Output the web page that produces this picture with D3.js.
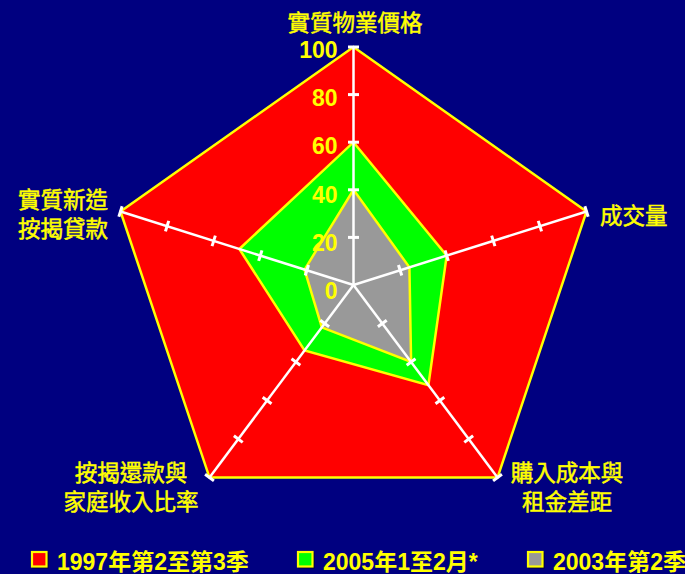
<!DOCTYPE html>
<html>
<head>
<meta charset="utf-8">
<script src="https://cdn.jsdelivr.net/npm/d3@7"></script>
<style>
  html, body { margin: 0; padding: 0; background: #000080; }
  svg { display: block; }
</style>
</head>
<body>
<svg id="chart" width="685" height="574"></svg>
<script>
// Radar axes, clockwise from the top
const axisNames = ["實質物業價格", "成交量", "購入成本與租金差距", "按揭還款與家庭收入比率", "實質新造按揭貸款"];
const axisLabelLines = [["實質物業價格"], ["成交量"], ["購入成本與", "租金差距"], ["按揭還款與", "家庭收入比率"], ["實質新造", "按揭貸款"]];

// Series values (index = 100 scale)
const seriesNames = ["1997年第2至第3季", "2005年1至2月*", "2003年第2季"];
const values1997 = [100, 100, 100, 100, 100];
const values2005 = [60, 40, 52, 34, 49];
const values2003 = [40, 24, 40, 22, 21];
const seriesColors = ["#ff0000", "#00ff00", "#999999"];

const tickValues = [0, 20, 40, 60, 80, 100];

const svg = d3.select("#chart");
const W = 685, H = 574;
svg.append("rect").attr("width", W).attr("height", H).attr("fill", "#000080");

const cx = 353.5, cy = 285;
const rx = d3.scaleLinear().domain([0, 100]).range([0, 245]);
const ry = d3.scaleLinear().domain([0, 100]).range([0, 238]);
const angle = d3.scaleLinear().domain([0, axisNames.length]).range([0, 2 * Math.PI]);

function pt(i, v) {
  const a = angle(i);
  return [cx + rx(v) * Math.sin(a), cy - ry(v) * Math.cos(a)];
}

const line = d3.line().curve(d3.curveLinearClosed);

// Series polygons
[values1997, values2005, values2003].forEach((vals, k) => {
  svg.append("path")
    .attr("d", line(vals.map((v, i) => pt(i, v))))
    .attr("fill", seriesColors[k])
    .attr("stroke", "#ffff00")
    .attr("stroke-width", 2.5)
    .attr("stroke-linejoin", "miter");
});

// Spokes and tick marks
const axesG = svg.append("g");
axisNames.forEach((name, i) => {
  const [x1, y1] = pt(i, 100);
  axesG.append("line")
    .attr("x1", cx).attr("y1", cy).attr("x2", x1).attr("y2", y1)
    .attr("stroke", "#ffffff").attr("stroke-width", 2.5);
  // unit perpendicular to the spoke in screen space
  const dx = x1 - cx, dy = y1 - cy, len = Math.hypot(dx, dy);
  const px = -dy / len, py = dx / len;
  tickValues.filter(v => v > 0).forEach(v => {
    const [tx, ty] = pt(i, v);
    axesG.append("line")
      .attr("x1", tx - px * 5.5).attr("y1", ty - py * 5.5)
      .attr("x2", tx + px * 5.5).attr("y2", ty + py * 5.5)
      .attr("stroke", "#ffffff").attr("stroke-width", 3);
  });
});

// Scale labels along the vertical spoke
svg.append("g").selectAll("text")
  .data(tickValues)
  .join("text")
  .attr("x", cx - 16)
  .attr("y", d => cy - ry(d) + 11 + (100 - d) * 0.03)
  .attr("text-anchor", "end")
  .attr("fill", "#ffff00")
  .attr("font-family", "'Liberation Sans', Arial, sans-serif")
  .attr("font-weight", "bold")
  .attr("font-size", 23)
  .text(d => d);

// Axis titles
const labelFont = "'Noto Sans CJK TC', 'Noto Sans CJK SC', sans-serif";
const labelPos = [
  { x: 355, y: 31, anchor: "middle" },
  { x: 600, y: 224, anchor: "start" },
  { x: 567, y: 481, anchor: "middle" },
  { x: 131, y: 481, anchor: "middle" },
  { x: 63, y: 208, anchor: "middle" }
];
axisLabelLines.forEach((lines, i) => {
  const p = labelPos[i];
  const t = svg.append("text")
    .attr("x", p.x).attr("y", p.y)
    .attr("text-anchor", p.anchor)
    .attr("fill", "#ffff00")
    .attr("stroke", "#ffff00")
    .attr("stroke-width", 0.5)
    .attr("font-family", labelFont)
    .attr("font-size", 22.5);
  lines.forEach((l, j) => {
    t.append("tspan").attr("x", p.x).attr("dy", j === 0 ? 0 : 29).text(l);
  });
});

// Legend
const legendX = [31, 297, 527];
const legend = svg.append("g");
seriesNames.forEach((name, k) => {
  const g = legend.append("g").attr("transform", `translate(${legendX[k]},551)`);
  g.append("rect").attr("x", 1.5).attr("y", 1.5).attr("width", 16).attr("height", 16).attr("fill", "#000033");
  g.append("rect").attr("x", 1).attr("y", 1).attr("width", 14.5).attr("height", 14.5)
    .attr("fill", seriesColors[k]).attr("stroke", "#ffff00").attr("stroke-width", 2.2);
  g.append("text")
    .attr("x", 26).attr("y", 19)
    .attr("fill", "#ffff00")
    .attr("font-family", "'Liberation Sans', Arial, 'Noto Sans CJK TC', sans-serif")
    .attr("font-weight", "bold")
    .attr("font-size", 23)
    .text(name);
});
</script>
</body>
</html>
